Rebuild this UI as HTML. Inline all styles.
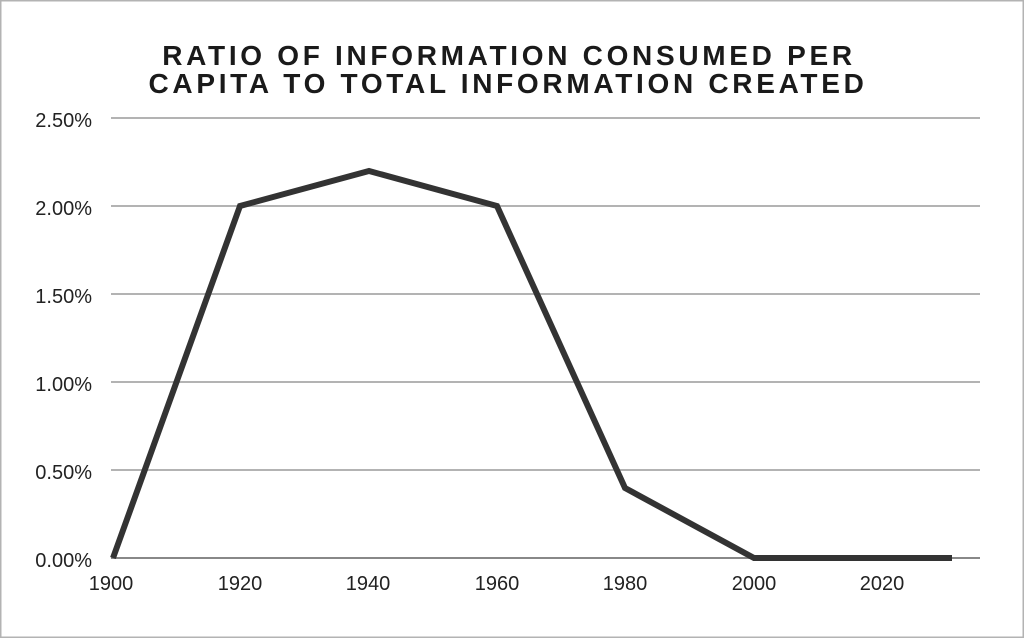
<!DOCTYPE html>
<html><head><style>body{margin:0;background:#fff}</style></head><body>
<svg width="1024" height="638" xmlns="http://www.w3.org/2000/svg" style="display:block">
<rect x="0.75" y="0.75" width="1022.5" height="636.5" fill="#fff" stroke="#b3b3b3" stroke-width="1.5"/>
<g font-family="Liberation Sans, sans-serif" font-weight="bold" font-size="28" fill="#1a1a1a" text-anchor="middle" letter-spacing="3.7">
<text x="509" y="65">RATIO OF INFORMATION CONSUMED PER</text>
<text x="508" y="93">CAPITA TO TOTAL INFORMATION CREATED</text>
</g>
<g stroke="#b3b3b3" stroke-width="2">
<line x1="111" x2="980" y1="118" y2="118"/>
<line x1="111" x2="980" y1="206" y2="206"/>
<line x1="111" x2="980" y1="294" y2="294"/>
<line x1="111" x2="980" y1="382" y2="382"/>
<line x1="111" x2="980" y1="470" y2="470"/>
</g>
<line x1="111" x2="980" y1="558" y2="558" stroke="#888" stroke-width="2"/>
<g font-family="Liberation Sans, sans-serif" font-size="20" fill="#222" text-anchor="end">
<text x="92" y="127">2.50%</text>
<text x="92" y="215">2.00%</text>
<text x="92" y="303">1.50%</text>
<text x="92" y="391">1.00%</text>
<text x="92" y="479">0.50%</text>
<text x="92" y="567">0.00%</text>
</g>
<g font-family="Liberation Sans, sans-serif" font-size="20" fill="#222" text-anchor="middle">
<text x="111" y="590">1900</text>
<text x="240" y="590">1920</text>
<text x="368" y="590">1940</text>
<text x="497" y="590">1960</text>
<text x="625" y="590">1980</text>
<text x="754" y="590">2000</text>
<text x="882" y="590">2020</text>
</g>
<polyline points="113,558 240,206 369,171 497,206 625,488 754,558 952,558" fill="none" stroke="#333" stroke-width="6" stroke-linejoin="miter"/>
</svg>
</body></html>
